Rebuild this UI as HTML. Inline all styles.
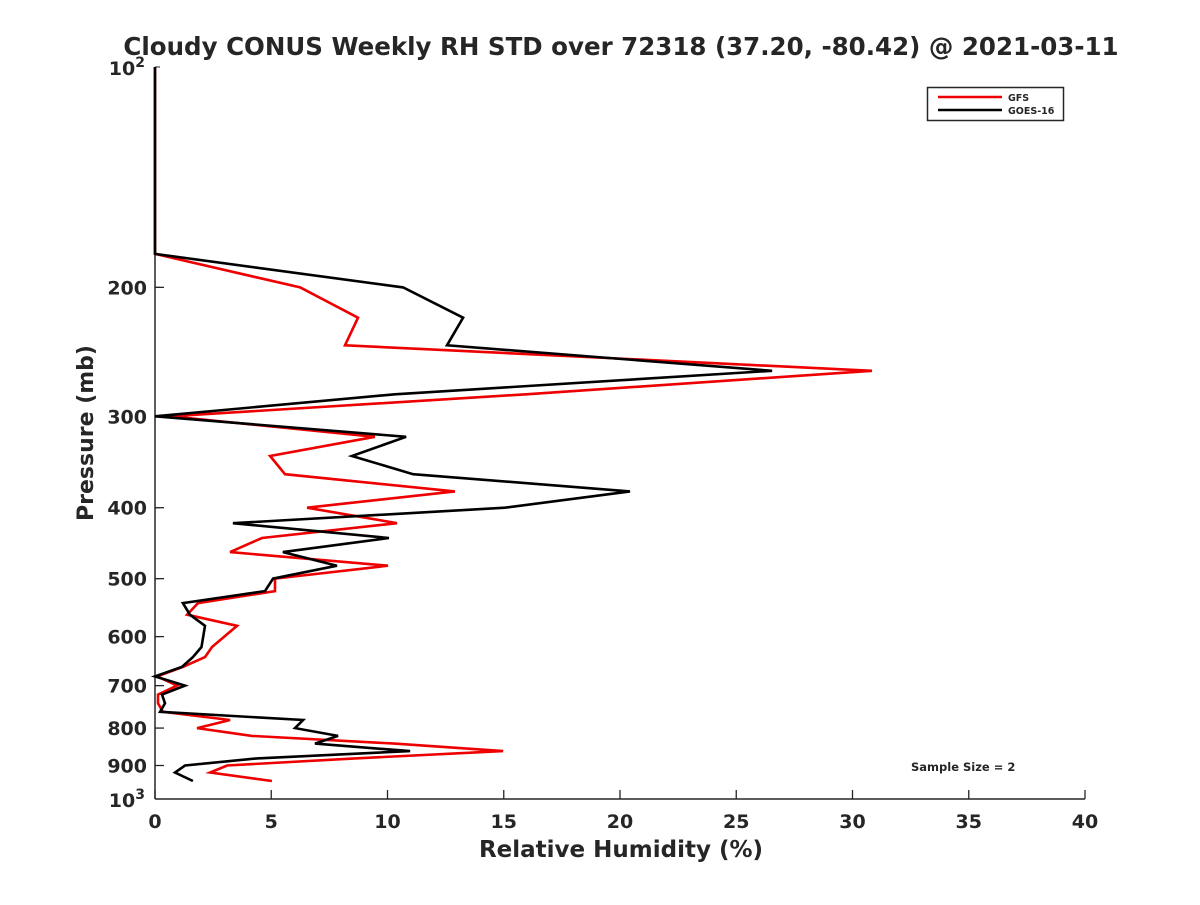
<!DOCTYPE html>
<html><head><meta charset="utf-8"><style>
body{margin:0;background:#fff;}
svg text{font-family:"DejaVu Sans","Liberation Sans",sans-serif;font-weight:bold;fill:#262626;}
</style></head>
<body>
<svg id="chart" width="1200" height="900" viewBox="0 0 1200 900">
<rect width="1200" height="900" fill="#fff"/>
<text x="621" y="55" font-size="24.5" text-anchor="middle" fill="#000">Cloudy CONUS Weekly RH STD over 72318 (37.20, -80.42) @ 2021-03-11</text>
<g id="axes"></g>
<g id="series"></g>
<g>
<rect x="927.5" y="87.5" width="136" height="33" fill="#fff" stroke="#262626" stroke-width="1.5"/>
<line x1="938" y1="97" x2="1002" y2="97" stroke="#e00" stroke-width="2.5"/>
<text x="1008" y="101" font-size="9.5">GFS</text>
<line x1="938" y1="110" x2="1002" y2="110" stroke="#000" stroke-width="2.5"/>
<text x="1008" y="114" font-size="9.5">GOES-16</text>
</g>
<text x="911" y="771" font-size="11.5" fill="#000">Sample Size = 2</text>
<text x="621" y="857" font-size="23" text-anchor="middle">Relative Humidity (%)</text>
<text transform="translate(93,433) rotate(-90)" font-size="22" text-anchor="middle">Pressure (mb)</text>
</svg>
<script>
const pressures=[100,180,200,220,240,260,280,300,320,340,360,380,400,420,440,460,480,500,520,540,560,580,620,640,660,680,700,720,740,760,780,800,820,840,860,880,900,920,945];
const gfsRH=[0,0,6.24,8.73,8.17,30.84,15.96,0.65,9.46,4.95,5.59,12.9,6.54,10.41,4.6,3.23,10.02,5.16,5.16,1.85,1.38,3.53,2.45,2.15,1.2,0.09,0.95,0.13,0.13,0.34,3.23,1.81,4.17,10.3,14.97,8.6,3.1,2.37,5.03];
const goesRH=[0,0,10.67,13.25,12.56,26.54,10.32,0,10.8,8.47,11.1,20.43,15.05,3.35,10.06,5.5,7.83,5.08,4.73,1.2,1.5,2.15,2.0,1.63,1.16,0,1.29,0.3,0.43,0.22,6.37,6.02,7.87,6.88,10.97,4.39,1.29,0.86,1.63];
const xTicks=[0,5,10,15,20,25,30,35,40];
const yTicks=[200,300,400,500,600,700,800,900];
const NS='http://www.w3.org/2000/svg';
const X0=155,X1=1085,Y0=67,Y1=799;
const xs=v=>X0+(v/40)*(X1-X0);
const ys=p=>Y0+Math.log10(p/100)*(Y1-Y0);
function mk(t,a,parent){const e=document.createElementNS(NS,t);for(const k in a)e.setAttribute(k,a[k]);parent.appendChild(e);return e;}
const ax=document.getElementById('axes');
let l=mk('line',{x1:X0,y1:Y0,x2:X0,y2:Y1,stroke:'#262626','stroke-width':1.5},ax);


l=mk('line',{x1:X0,y1:Y1,x2:X1,y2:Y1,stroke:'#262626','stroke-width':1.5},ax);


xTicks.forEach(v=>{const x=xs(v);
 const t=mk('line',{x1:x,y1:Y1,x2:x,y2:Y1-9,stroke:'#262626','stroke-width':1.3},ax);
 
 
 const tx=mk('text',{x:x,y:Y1+29,'font-size':19,'text-anchor':'middle'},ax);tx.textContent=v;
 
 
});
yTicks.forEach(p=>{const y=ys(p);
 const t=mk('line',{x1:X0,y1:y,x2:X0+9,y2:y,stroke:'#262626','stroke-width':1.3},ax);
 
 
 const tx=mk('text',{x:X0-8,y:y+7,'font-size':19,'text-anchor':'end'},ax);tx.textContent=p;
 
 
});
[[100,'2',Y0],[1000,'3',Y1]].forEach(([p,e,y])=>{
 const tx=mk('text',{x:X0-10,y:y+8,'font-size':19,'text-anchor':'end'},ax);
 tx.innerHTML='10<tspan dy="-8" font-size="14">'+e+'</tspan>';
 
 
});
for(let p=100;p<=1000;p+=100){const t=mk('line',{x1:X0,y1:ys(p),x2:X0+5,y2:ys(p),stroke:'#262626','stroke-width':1},ax);
 
 }
const sg=document.getElementById('series');
function draw(vals,color,name){
 const pts=vals.map((v,i)=>xs(v).toFixed(1)+','+ys(pressures[i]).toFixed(1)).join(' ');
 const pl=mk('polyline',{points:pts,fill:'none',stroke:color,'stroke-width':2.6,'stroke-linejoin':'miter'},sg);
 
 
}
draw(gfsRH,'#e00','gfs-line');
draw(goesRH,'#000','goes16-line');
</script>
</body></html>
